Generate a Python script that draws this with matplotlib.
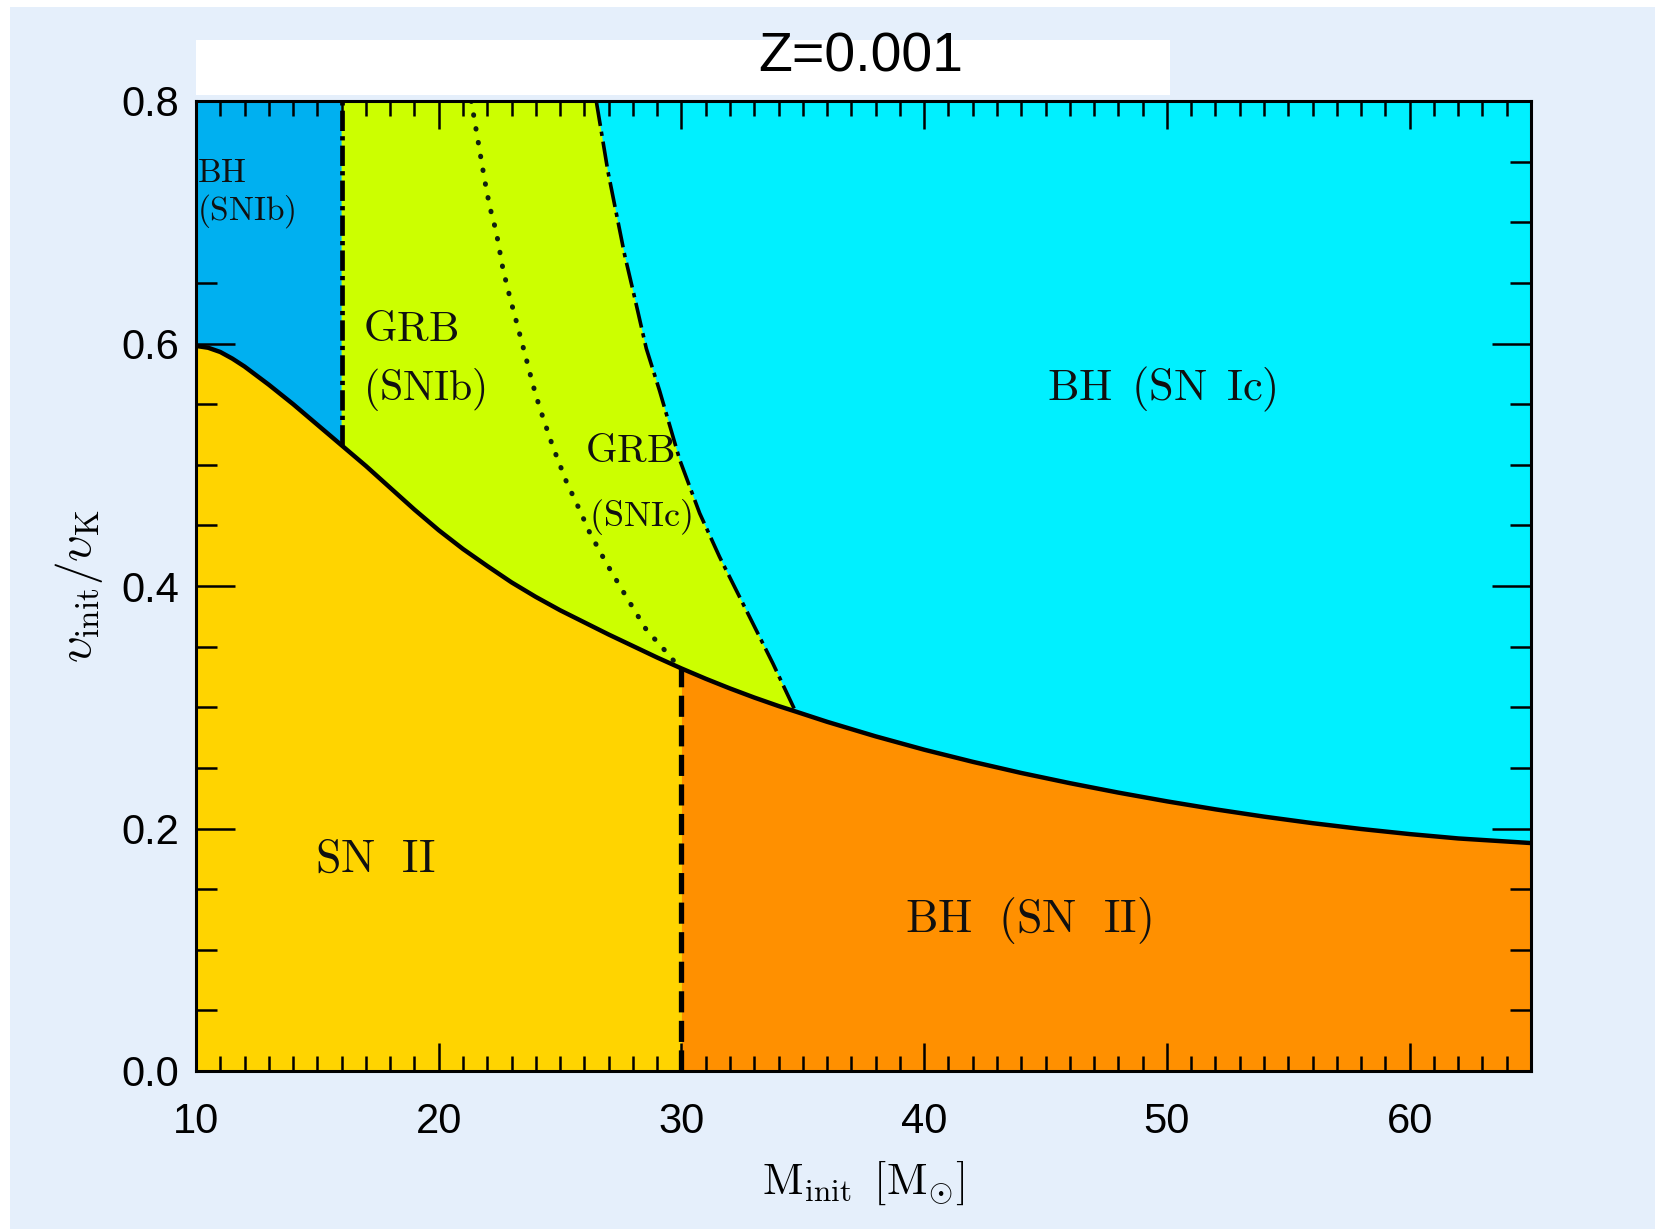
import matplotlib
matplotlib.use('Agg')
import matplotlib.pyplot as plt
from matplotlib.patches import Rectangle
from matplotlib.ticker import MultipleLocator

# boundary between SN II / BH(SN II) and the rotating regions
main_m = [10, 10.5, 11, 11.5, 12, 12.5, 13, 14, 15, 16, 17, 18, 19, 20, 21, 22,
          23, 24, 25, 26, 27, 28, 29, 30, 31, 32, 33, 34, 34.7, 36, 38, 40, 42,
          44, 46, 48, 50, 52, 54, 56, 58, 60, 62, 65]
main_v = [0.598, 0.5965, 0.593, 0.5875, 0.581, 0.5735, 0.566, 0.550, 0.533,
          0.516, 0.499, 0.481, 0.463, 0.446, 0.4305, 0.4165, 0.403, 0.391,
          0.380, 0.370, 0.360, 0.3505, 0.341, 0.332, 0.3235, 0.3155, 0.308,
          0.301, 0.2965, 0.288, 0.276, 0.265, 0.255, 0.2458, 0.2374, 0.2296,
          0.2224, 0.2158, 0.2098, 0.2044, 0.1996, 0.1954, 0.1918, 0.188]

# GRB (SNIc) / BH (SN Ic) boundary
dash_m = [26.49, 26.97, 27.32, 27.66, 28.07, 28.55, 29.1, 29.93, 30.75, 31.57,
          32.67, 33.77, 34.7]
dash_v = [0.80, 0.742, 0.707, 0.673, 0.638, 0.596, 0.561, 0.504, 0.460, 0.424,
          0.380, 0.336, 0.2965]

# GRB (SNIb) / GRB (SNIc) boundary
dot_m = [21.34, 21.62, 21.89, 22.1, 22.37, 22.65, 22.92, 23.2, 23.61, 23.88,
         24.16, 24.7, 25.26, 25.8, 26.22, 26.9, 27.73, 28.55, 29.58, 29.8]
dot_v = [0.80, 0.767, 0.735, 0.713, 0.692, 0.661, 0.639, 0.618, 0.587, 0.566,
         0.547, 0.515, 0.486, 0.463, 0.444, 0.419, 0.391, 0.364, 0.341, 0.335]

m_wr = 16      # SNIb limit (dash-dot)
m_bh = 30      # BH formation limit (dashed)
v_top = 0.8

x_ticks = [10, 20, 30, 40, 50, 60]
y_ticks = [0.0, 0.2, 0.4, 0.6, 0.8]
y_labels = ['0.0', '0.2', '0.4', '0.6', '0.8']

c_snii = '#FFD400'
c_bhsnii = '#FF9000'
c_snib = '#00B0F0'
c_grb = '#CCFF00'
c_snic = '#00F0FF'

plt.rcParams['mathtext.fontset'] = 'cm'


def main():
    fig = plt.figure(figsize=(16.56, 12.29), dpi=100, facecolor='white')
    fig.patches.append(Rectangle((10 / 1656, 0), 1 - 10 / 1656, 1 - 7 / 1229,
                                 transform=fig.transFigure, facecolor='#E5EFFB',
                                 edgecolor='none', zorder=-2))
    fig.patches.append(Rectangle((196 / 1656, 1 - 95 / 1229), 974 / 1656, 55 / 1229,
                                 transform=fig.transFigure, facecolor='white',
                                 edgecolor='none', zorder=-1))
    fig.text(861 / 1656, 1 - 58 / 1229, 'Z=0.001', ha='center', va='center',
             fontsize=40, family='Liberation Sans')

    ax = fig.add_axes([196 / 1656, 1 - 1071 / 1229, 1335 / 1656, 970 / 1229])
    ax.set_facecolor(c_snic)

    i16 = main_m.index(m_wr)
    i30 = main_m.index(m_bh)
    ij = main_m.index(34.7)

    # below the curve
    ax.fill_between(main_m[:i30 + 1], 0, main_v[:i30 + 1], color=c_snii, lw=0, zorder=1)
    ax.fill_between(main_m[i30:], 0, main_v[i30:], color=c_bhsnii, lw=0, zorder=1)

    # BH (SNIb) corner
    px = [10, m_wr] + main_m[i16::-1]
    py = [v_top, v_top] + main_v[i16::-1]
    ax.fill(px, py, color=c_snib, lw=0, zorder=1)

    # GRB region
    px = [m_wr] + dash_m + main_m[ij:i16 - 1:-1]
    py = [v_top] + dash_v + main_v[ij:i16 - 1:-1]
    ax.fill(px, py, color=c_grb, lw=0, zorder=1)

    # lines
    ax.plot(main_m, main_v, color='black', lw=3.2, zorder=3,
            solid_joinstyle='round', solid_capstyle='round')
    ax.plot([m_wr, m_wr], [main_v[i16], v_top], color='black', lw=3.4,
            linestyle=(0, (4.3, 1.1, 0.9, 1.1)), zorder=3)
    ax.plot([m_bh, m_bh], [0, main_v[i30]], color='black', lw=3.8,
            linestyle=(0, (4, 1.6)), zorder=3)
    ax.plot(dash_m, dash_v, color='black', lw=2.6,
            linestyle=(0, (7, 1.6, 1.2, 1.6)), zorder=3)
    ax.plot(dot_m, dot_v, color='#102010', lw=3.6, dash_capstyle='round',
            linestyle=(0, (0.1, 2.7)), zorder=3)

    # region labels
    kw = dict(color='#101010', zorder=4)
    box = dict(facecolor=c_snib, edgecolor='none', pad=1)
    ax.text(10.05, 0.741, r'$\mathrm{BH}$', fontsize=24, ha='left', va='center',
            bbox=box, color='#101010', zorder=6)
    ax.text(10.05, 0.709, r'$\mathrm{(SNIb)}$', fontsize=24, ha='left', va='center',
            bbox=box, color='#101010', zorder=6)
    ax.text(16.9, 0.612, r'$\mathrm{GRB}$', fontsize=31, ha='left', va='center', **kw)
    ax.text(16.9, 0.562, r'$\mathrm{(SNIb)}$', fontsize=30, ha='left', va='center', **kw)
    ax.text(27.85, 0.511, r'$\mathrm{GRB}$', fontsize=29, ha='center', va='center', **kw)
    ax.text(28.3, 0.457, r'$\mathrm{(SNIc)}$', fontsize=26, ha='center', va='center', **kw)
    ax.text(49.8, 0.562, r'$\mathrm{BH\ \,(SN\ \,Ic)}$', fontsize=32,
            ha='center', va='center', **kw)
    ax.text(17.4, 0.175, r'$\mathrm{SN\ \ II}$', fontsize=33, ha='center', va='center', **kw)
    ax.text(44.3, 0.124, r'$\mathrm{BH\ \ (SN\ \ II)}$', fontsize=33,
            ha='center', va='center', **kw)

    ax.set_xlim(10, 65)
    ax.set_ylim(0, 0.8)
    ax.set_xticks(x_ticks)
    ax.set_xticklabels([str(t) for t in x_ticks], family='Liberation Sans', fontsize=30)
    ax.set_yticks(y_ticks)
    ax.set_yticklabels(y_labels, family='Liberation Sans', fontsize=30)
    ax.xaxis.set_minor_locator(MultipleLocator(1))
    ax.yaxis.set_minor_locator(MultipleLocator(0.05))

    ax.tick_params(which='both', direction='in', top=True, right=True,
                   width=1.8, color='black')
    ax.tick_params(axis='x', which='major', length=20, pad=22)
    ax.tick_params(axis='x', which='minor', length=11)
    ax.tick_params(axis='y', which='major', length=28, pad=12)
    ax.tick_params(axis='y', which='minor', length=15)
    for s in ax.spines.values():
        s.set_linewidth(2.2)
        s.set_zorder(7)

    ax.text(0.5, -0.115, r'$\mathrm{M_{init}}\ \,[\mathrm{M}_{\odot}]$',
            transform=ax.transAxes, ha='center', va='center', fontsize=32)
    ax.text(-0.088, 0.5, r'$\upsilon_{\rm init}/\upsilon_{\rm K}$',
            transform=ax.transAxes, ha='center', va='center', fontsize=34,
            rotation=90)

    fig.savefig('out.png', dpi=100, facecolor=fig.get_facecolor())


if __name__ == '__main__':
    main()
